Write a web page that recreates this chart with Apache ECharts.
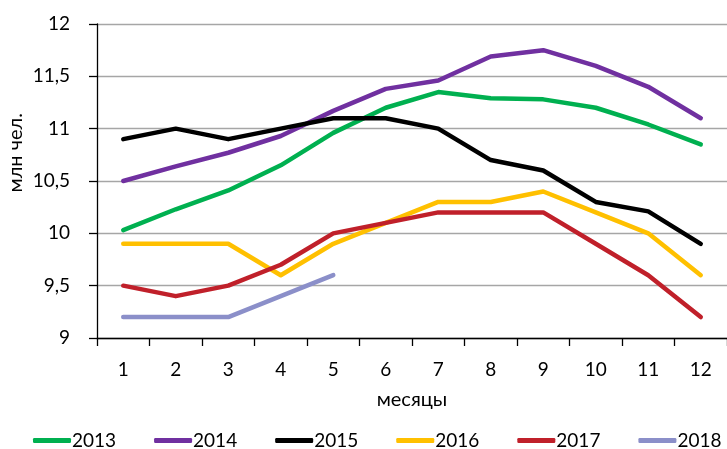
<!DOCTYPE html>
<html>
<head>
<meta charset="utf-8">
<script src="https://cdn.jsdelivr.net/npm/echarts@6/dist/echarts.min.js"></script>
<style>
html,body{margin:0;padding:0;background:#fff;}
#c{width:727px;height:449px;}
</style>
</head>
<body>
<div id="c"></div>
<script>
const months = ['1','2','3','4','5','6','7','8','9','10','11','12'];
const years = ['2013','2014','2015','2016','2017','2018'];
const colors = ['#00B050','#7030A0','#000000','#FFC000','#C0202A','#8B8FC9'];
const v2013 = [10.03,10.23,10.41,10.65,10.96,11.2,11.35,11.29,11.28,11.2,11.04,10.85];
const v2014 = [10.5,10.64,10.77,10.93,11.17,11.38,11.46,11.69,11.75,11.6,11.4,11.1];
const v2015 = [10.9,11.0,10.9,11.0,11.1,11.1,11.0,10.7,10.6,10.3,10.21,9.9];
const v2016 = [9.9,9.9,9.9,9.6,9.9,10.1,10.3,10.3,10.4,10.2,10.0,9.6];
const v2017 = [9.5,9.4,9.5,9.7,10.0,10.1,10.2,10.2,10.2,9.9,9.6,9.2];
const v2018 = [9.2,9.2,9.2,9.4,9.6];
const allValues = [v2013,v2014,v2015,v2016,v2017,v2018];
const yTicks = {min:9, max:12, interval:0.5};
const yTitle = 'млн чел.';
const xTitle = 'месяцы';

const FONT = 'Lato';
const FS = 19;
const FT = 20;
const chart = echarts.init(document.getElementById('c'), null, {renderer:'canvas'});
chart.setOption({
  animation:false,
  backgroundColor:'#ffffff',
  textStyle:{fontFamily:FONT},
  grid:{left:97, top:24, width:642, height:314, containLabel:false},
  legend:{
    data:years,
    left:33, top:431, padding:0, width:720,
    icon:'roundRect', itemWidth:38, itemHeight:5, itemGap:38,
    textStyle:{fontFamily:FONT, fontSize:FS, color:'#000', padding:[0,0,0,-4]}
  },
  graphic:[{
    type:'text', left:6, top:113,
    style:{text:yTitle, font:FT+'px '+FONT, fontFamily:FONT, fontSize:FT, fill:'#000'},
    rotation:Math.PI/2
  }],
  xAxis:{
    type:'category', data:months, boundaryGap:true,
    name:xTitle, nameLocation:'middle', nameGap:52,
    nameTextStyle:{fontFamily:FONT, fontSize:FT, color:'#000'},
    axisLine:{lineStyle:{color:'#000', width:1.3}},
    axisTick:{show:true, length:8, lineStyle:{color:'#000', width:1.3}},
    axisLabel:{fontFamily:FONT, fontSize:FS, color:'#000', margin:22},
    splitLine:{show:false}
  },
  yAxis:{
    type:'value', min:yTicks.min, max:yTicks.max, interval:yTicks.interval,
    axisLine:{show:true, lineStyle:{color:'#000', width:1.3}},
    axisTick:{show:true, length:8, lineStyle:{color:'#000', width:1.3}},
    axisLabel:{fontFamily:FONT, fontSize:FS, color:'#000', margin:27,
      formatter:v=>String(v).replace('.',',')},
    splitLine:{show:true, lineStyle:{color:'#A6A6A6', width:1.3}}
  },
  series: years.map((y,i)=>({
    name:y, type:'line', data:allValues[i], symbol:'none', smooth:false,
    color:colors[i],
    lineStyle:{width:4.5, color:colors[i], cap:'round', join:'round'},
    itemStyle:{color:colors[i]}
  }))
});
</script>
</body>
</html>
